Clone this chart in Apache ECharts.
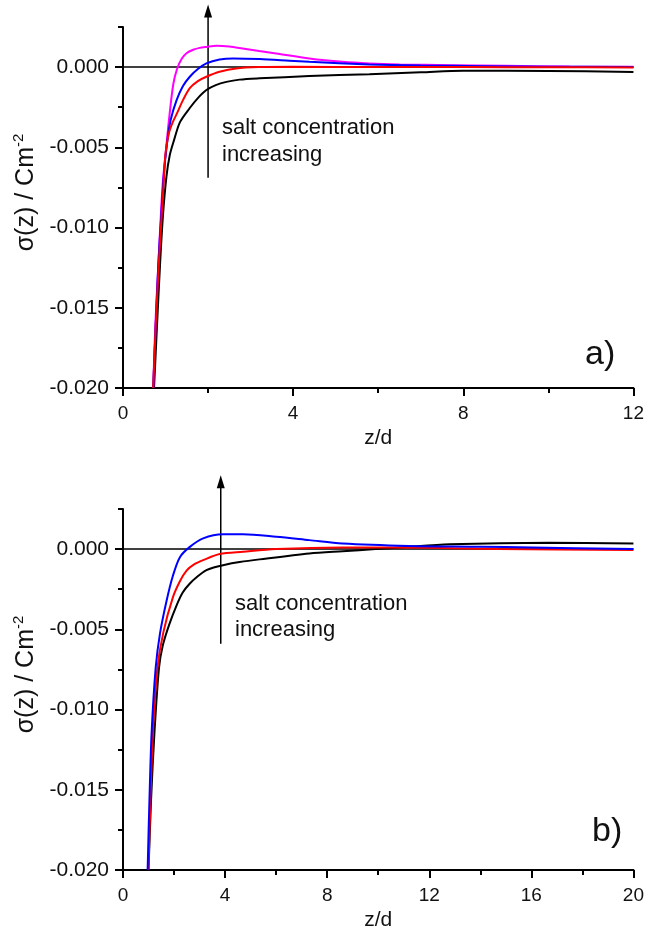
<!DOCTYPE html>
<html>
<head>
<meta charset="utf-8">
<script src="https://cdn.jsdelivr.net/npm/echarts@6/dist/echarts.min.js"></script>
<style>
html, body { margin: 0; padding: 0; background: #fff; }
#chart { width: 647px; height: 943px; }
</style>
</head>
<body>
<div id="chart"></div>
<script>
// panel a)
var zA_black = [0.73, 0.8, 0.87, 0.94, 1.02, 1.1, 1.2, 1.34, 1.57, 1.76, 1.96, 2.18, 2.43, 2.74, 3.21, 4.38, 5.79, 7.0, 8.0, 10.0, 12.0];
var sA_black = [-0.020, -0.01607, -0.01234, -0.00922, -0.00685, -0.00548, -0.00455, -0.00343, -0.00255, -0.00193, -0.00143, -0.00112, -0.00092, -0.00078, -0.0007, -0.00056, -0.00044, -0.00032, -0.00022, -0.00024, -0.0003];
var zA_magenta = [0.71, 0.76, 0.83, 0.89, 0.94, 1.01, 1.08, 1.18, 1.27, 1.38, 1.5, 1.65, 1.8, 1.96, 2.2, 2.5, 2.81, 3.2, 3.6, 4.38, 5.16, 5.79, 6.5, 7.7, 9.0, 10.5, 12.0];
var sA_magenta = [-0.020, -0.01607, -0.01234, -0.00922, -0.00704, -0.00517, -0.0033, -0.0011, -0.00012, 0.00052, 0.00088, 0.00108, 0.0012, 0.00126, 0.00133, 0.00128, 0.00116, 0.001, 0.00085, 0.00054, 0.00033, 0.00023, 0.00017, 0.00012, 0.00008, 0.00004, 0.00002];
var zA_blue = [0.71, 0.77, 0.83, 0.9, 0.96, 1.03, 1.12, 1.26, 1.41, 1.57, 1.76, 1.96, 2.27, 2.59, 3.21, 3.91, 4.38, 5.79, 7.0, 8.5, 10.0, 12.0];
var sA_blue = [-0.020, -0.01607, -0.01234, -0.00922, -0.00673, -0.00486, -0.0033, -0.00206, -0.00118, -0.0006, -0.00012, 0.00023, 0.00047, 0.00054, 0.0005, 0.0004, 0.00033, 0.00017, 0.0001, 0.00006, 0.00003, 0.00001];
var zA_red = [0.71, 0.77, 0.84, 0.91, 0.96, 1.0, 1.08, 1.17, 1.26, 1.41, 1.57, 1.76, 1.96, 2.27, 2.66, 3.2, 4.0, 6.0, 8.0, 10.0, 12.0];
var sA_red = [-0.020, -0.01607, -0.01234, -0.00922, -0.00704, -0.00536, -0.00411, -0.00343, -0.00293, -0.00206, -0.00131, -0.00087, -0.0006, -0.00029, -0.00008, 0.0, 0.00002, 0.0, 0.0, -0.00001, -0.00002];

// panel b)
var zB_black = [1.0, 1.1, 1.23, 1.41, 1.56, 1.8, 2.1, 2.34, 2.62, 2.93, 3.27, 3.59, 3.92, 4.57, 5.35, 7.3, 8.6, 9.9, 11.0, 12.8, 16.7, 20.0];
var sB_black = [-0.020, -0.0156, -0.0115, -0.0074, -0.006, -0.00475, -0.0035, -0.0027, -0.00214, -0.00169, -0.00131, -0.00113, -0.001, -0.00081, -0.00064, -0.00027, -0.00013, 0.0, 0.00012, 0.0003, 0.0004, 0.00035];
var zB_blue = [0.965, 1.035, 1.12, 1.28, 1.45, 1.71, 1.95, 2.23, 2.62, 3.14, 3.92, 4.7, 6.0, 7.3, 8.6, 11.2, 14.0, 16.0, 20.0];
var sB_blue = [-0.020, -0.0157, -0.0115, -0.0074, -0.00525, -0.0032, -0.00169, -0.0005, 0.00014, 0.00067, 0.00092, 0.00092, 0.00077, 0.00056, 0.00035, 0.0002, 0.00015, 0.0001, 0.0];
var zB_red = [0.996, 1.074, 1.17, 1.35, 1.58, 1.96, 2.23, 2.49, 2.77, 3.14, 3.79, 4.7, 6.0, 8.6, 12.0, 14.7, 20.0];
var sB_red = [-0.020, -0.01569, -0.0115, -0.0074, -0.00519, -0.00298, -0.002, -0.00134, -0.00097, -0.00069, -0.00031, -0.00017, 0.0, 0.0001, 0.00008, 0.0, -0.00006];

// ticks
var yMajorTicks = [-0.02, -0.015, -0.01, -0.005, 0];
var yMinorTicks = [-0.0175, -0.0125, -0.0075, -0.0025, 0.0025];

// arrows: [z, from, to]
var arrowA = [2.0, -0.0069, 0.0039];
var arrowB = [3.83, -0.0059, 0.0046];

var FONT = 'Liberation Sans, Arial, sans-serif';

function pairs(z, s) {
    var out = [];
    for (var i = 0; i < z.length; i++) out.push([z[i], s[i]]);
    return out;
}

function curve(name, color, z, s, idx) {
    return {
        name: name,
        type: 'line',
        xAxisIndex: idx,
        yAxisIndex: idx * 2,
        data: pairs(z, s),
        smooth: 0.3,
        showSymbol: false,
        lineStyle: {color: color, width: 2},
        itemStyle: {color: color},
        z: 3
    };
}

function zeroLine(idx, maxZ) {
    return {
        type: 'line',
        xAxisIndex: idx,
        yAxisIndex: idx * 2,
        data: [[0, 0], [maxZ, 0]],
        showSymbol: false,
        lineStyle: {color: '#000', width: 1.5},
        z: 2
    };
}

function xAxis(idx, maxZ) {
    return {
        type: 'value',
        gridIndex: idx,
        min: 0,
        max: maxZ,
        interval: 4,
        name: 'z/d',
        nameLocation: 'middle',
        nameGap: 40,
        nameTextStyle: {fontFamily: FONT, fontSize: 21, color: '#111'},
        axisLine: {onZero: false, lineStyle: {color: '#000', width: 2}},
        axisTick: {length: 8, lineStyle: {color: '#000', width: 2}},
        minorTick: {show: true, splitNumber: 2, length: 5, lineStyle: {color: '#000', width: 2}},
        axisLabel: {fontFamily: FONT, fontSize: 19, color: '#111', margin: 16},
        splitLine: {show: false}
    };
}

function yAxes(idx) {
    return [{
        type: 'value',
        gridIndex: idx,
        position: 'left',
        min: -0.02,
        max: 0.0025,
        interval: 0.005,
        name: '{n|σ(z) / Cm}{s|-2}',
        nameLocation: 'middle',
        nameGap: 77,
        nameTextStyle: {
            fontFamily: FONT, color: '#111',
            padding: [0, 0, 0, 30],
            rich: {
                n: {fontFamily: FONT, fontSize: 25, color: '#111', lineHeight: 29},
                s: {fontFamily: FONT, fontSize: 15, color: '#111', verticalAlign: 'top', lineHeight: 29}
            }
        },
        axisLine: {onZero: false, lineStyle: {color: '#000', width: 2}},
        axisTick: {length: 8, customValues: yMajorTicks, lineStyle: {color: '#000', width: 2}},
        axisLabel: {
            fontFamily: FONT, fontSize: 21, color: '#111', margin: 14,
            customValues: yMajorTicks,
            formatter: function (v) { return v.toFixed(3); }
        },
        splitLine: {show: false}
    }, {
        type: 'value',
        gridIndex: idx,
        position: 'left',
        min: -0.02,
        max: 0.0025,
        interval: 0.005,
        axisLine: {show: false},
        axisTick: {length: 5, customValues: yMinorTicks, lineStyle: {color: '#000', width: 2}},
        axisLabel: {show: false},
        splitLine: {show: false}
    }];
}

var chart = echarts.init(document.getElementById('chart'));
chart.setOption({
    backgroundColor: '#fff',
    animation: false,
    title: [
        {text: 'a)', left: 580, top: 333, textStyle: {fontFamily: FONT, fontSize: 34, fontWeight: 'normal', color: '#111'}},
        {text: 'b)', left: 587, top: 810, textStyle: {fontFamily: FONT, fontSize: 34, fontWeight: 'normal', color: '#111'}}
    ],
    grid: [
        {left: 123, top: 27, width: 512, height: 361},
        {left: 123, top: 509, width: 512, height: 361}
    ],
    xAxis: [xAxis(0, 12), xAxis(1, 20)],
    yAxis: yAxes(0).concat(yAxes(1)),
    series: [
        zeroLine(0, 12),
        curve('a-black', '#000000', zA_black, sA_black, 0),
        curve('a-magenta', '#ff00ff', zA_magenta, sA_magenta, 0),
        curve('a-blue', '#0000ff', zA_blue, sA_blue, 0),
        curve('a-red', '#ff0000', zA_red, sA_red, 0),
        zeroLine(1, 20),
        curve('b-black', '#000000', zB_black, sB_black, 1),
        curve('b-red', '#ff0000', zB_red, sB_red, 1),
        curve('b-blue', '#0000ff', zB_blue, sB_blue, 1)
    ]
});

function arrowGraphic(gridIndex, a) {
    var p0 = chart.convertToPixel({gridIndex: gridIndex}, [a[0], a[1]]);
    var p1 = chart.convertToPixel({gridIndex: gridIndex}, [a[0], a[2]]);
    return [{
        type: 'line',
        shape: {x1: p0[0], y1: p0[1], x2: p1[0], y2: p1[1] + 10},
        style: {stroke: '#000', lineWidth: 1.5}
    }, {
        type: 'polygon',
        shape: {points: [[p1[0], p1[1]], [p1[0] - 4, p1[1] + 13], [p1[0] + 4, p1[1] + 13]]},
        style: {fill: '#000'}
    }];
}

var textStyle = {fontFamily: FONT, fontSize: 22, fill: '#111', lineHeight: 27};
chart.setOption({
    graphic: arrowGraphic(0, arrowA).concat(arrowGraphic(1, arrowB)).concat([
        {type: 'text', left: 222, top: 114, style: Object.assign({text: 'salt concentration\nincreasing'}, textStyle)},
        {type: 'text', left: 235, top: 591, style: Object.assign({text: 'salt concentration\nincreasing'}, textStyle, {lineHeight: 26})}
    ])
});
</script>
</body>
</html>
